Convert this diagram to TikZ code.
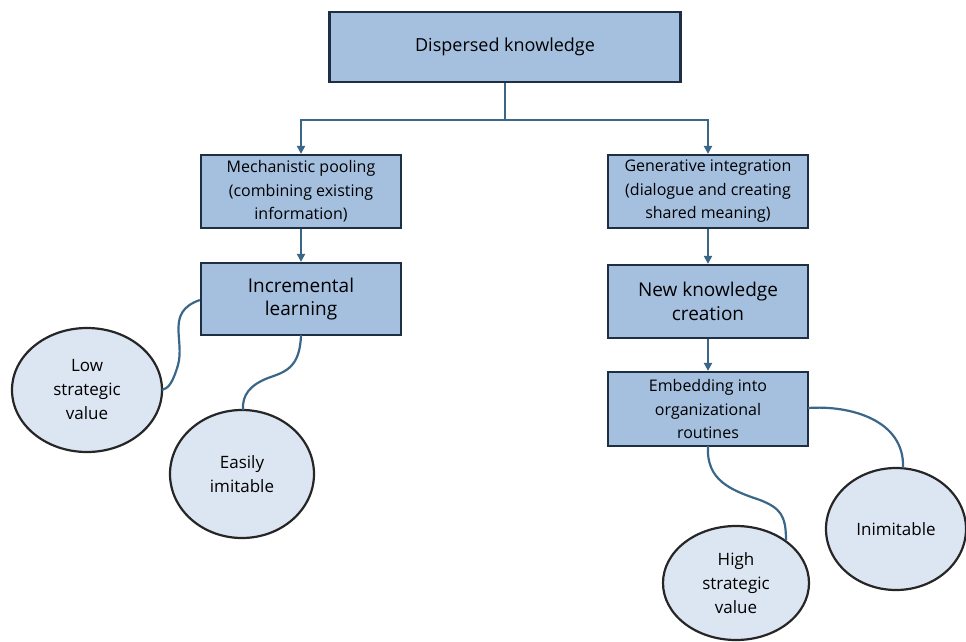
\documentclass[tikz,border=0pt]{standalone}
\usepackage{fontspec}
\setmainfont{Open Sans}
\usetikzlibrary{arrows.meta,shapes.geometric}
\definecolor{boxfill}{HTML}{A5C0DF}
\definecolor{boxline}{HTML}{1E2F44}
\definecolor{ovalfill}{HTML}{DCE6F2}
\definecolor{linkcol}{HTML}{3A6788}
\tikzset{
  stage/.style={draw=boxline, line width=2.2pt, fill=boxfill, align=center,
    inner sep=0pt, font=\fontsize{16}{23.5}\selectfont},
  outcome/.style={draw=black!85, line width=2.2pt, fill=ovalfill, ellipse,
    align=center, inner sep=0pt, font=\fontsize{17}{24}\selectfont},
  flow/.style={draw=linkcol, line width=2.2pt, -{Triangle[length=8pt,width=8pt]}},
  link/.style={draw=linkcol, line width=2.2pt},
}
\begin{document}
\begin{tikzpicture}[x=1pt,y=-1pt]
\useasboundingbox (0,0) rectangle (966,642);

% boxes
\node[stage, minimum width=351, minimum height=70, font=\fontsize{18}{22}\selectfont] (top) at (505,47) {Dispersed knowledge};
\node[stage, minimum width=200, minimum height=73] (mech) at (301,191.5) {Mechanistic pooling\\(combining existing\\information)};
\node[stage, minimum width=200, minimum height=73] (gen) at (708,191.5) {Generative integration\\(dialogue and creating\\shared meaning)};
\node[stage, minimum width=200, minimum height=72, font=\fontsize{19}{23.5}\selectfont] (incr) at (301,299) {Incremental\\learning};
\node[stage, minimum width=200, minimum height=73, font=\fontsize{19}{23.5}\selectfont] (newk) at (708,301.5) {New knowledge\\creation};
\node[stage, minimum width=200, minimum height=74] (embed) at (708,409) {Embedding into\\organizational\\routines};

% ellipses
\node[outcome, minimum width=150, minimum height=124] (low) at (87,390) {Low\\strategic\\value};
\node[outcome, minimum width=144, minimum height=128] (easy) at (242,474) {Easily\\imitable};
\node[outcome, minimum width=146, minimum height=114] (high) at (736,583) {High\\strategic\\value};
\node[outcome, minimum width=140, minimum height=122] (inim) at (896,529) {Inimitable};

% tree connectors
\coordinate (split) at (505,120);
\draw[link] (top.south) -- (split);
\draw[flow] (split) -| (mech.north);
\draw[flow] (split) -| (gen.north);
\draw[flow] (mech.south) -- (incr.north);
\draw[flow] (gen.south) -- (newk.north);
\draw[flow] (newk.south) -- (embed.north);

% curved links to outcomes
\draw[link] (incr.west |- 0,300) .. controls (165,312) and (185,340) .. (178,365)
            .. controls (172,385) and (168,388) .. (162,390);
\draw[link] (301,335) .. controls (300,368) and (285,372) .. (268,378)
            .. controls (250,385) and (242,395) .. (243,410);
\draw[link] (708,446) .. controls (706,480) and (730,490) .. (760,500)
            .. controls (780,508) and (786,515) .. (786,540);
\draw[link] (808,408) .. controls (850,405) and (905,420) .. (903,468);
\end{tikzpicture}
\end{document}
